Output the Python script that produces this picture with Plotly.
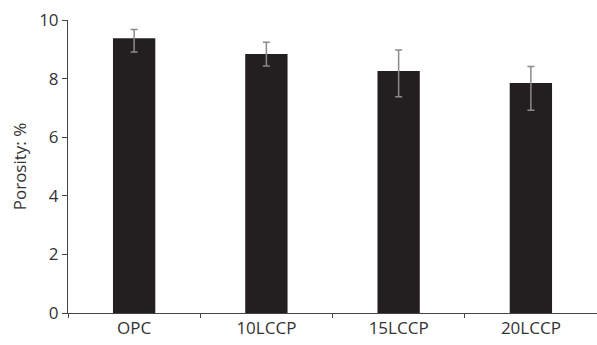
import plotly.graph_objects as go

categories = ["OPC", "10LCCP", "15LCCP", "20LCCP"]
porosity = [9.38, 8.84, 8.26, 7.85]
err_plus = [0.30, 0.40, 0.72, 0.56]
err_minus = [0.47, 0.41, 0.88, 0.93]
y_ticks = [0, 2, 4, 6, 8, 10]

font_family = "Open Sans, Noto Sans, sans-serif"
text_color = "#333333"

fig = go.Figure()
fig.add_trace(go.Bar(
    x=categories,
    y=porosity,
    marker=dict(color="#231f20", line=dict(width=0)),
    error_y=dict(
        type="data",
        symmetric=False,
        array=err_plus,
        arrayminus=err_minus,
        color="#8a8a8a",
        thickness=1.5,
        width=3.5,
    ),
    showlegend=False,
))

fig.update_layout(
    width=597,
    height=345,
    margin=dict(l=68, r=0, t=20, b=32),
    paper_bgcolor="white",
    plot_bgcolor="white",
    bargap=0.68,
    font=dict(family=font_family, size=17, color=text_color),
    xaxis=dict(
        automargin=False,
        showline=True,
        linecolor="#444444",
        linewidth=1,
        ticks="outside",
        ticklen=4,
        tickcolor="#444444",
        tickson="boundaries",
        showgrid=False,
        tickfont=dict(size=17),
        range=[-0.5, 3.5],
    ),
    yaxis=dict(
        automargin=False,
        range=[0, 10],
        tickvals=y_ticks,
        showline=True,
        linecolor="#444444",
        linewidth=1,
        ticks="outside",
        ticklen=5,
        tickcolor="#444444",
        showgrid=False,
        zeroline=False,
        tickfont=dict(size=17),
        title=dict(text="Porosity: %", font=dict(size=17), standoff=8),
    ),
)

fig.write_html(
    "out.html",
    config={"displayModeBar": False},
    post_script="document.body.style.margin='0';document.body.style.overflow='hidden';",
)
